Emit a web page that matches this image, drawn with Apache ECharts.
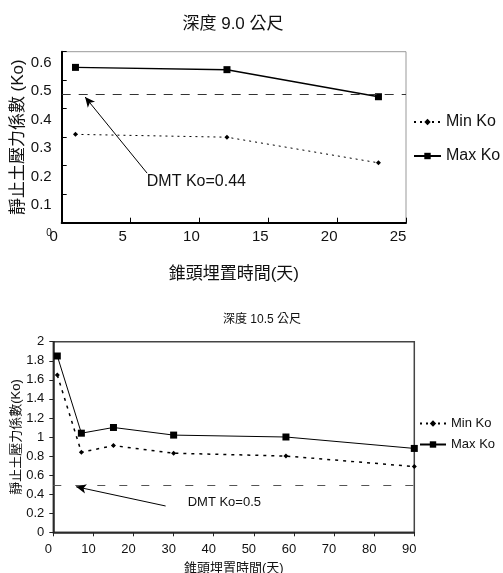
<!DOCTYPE html>
<html><head><meta charset="utf-8">
<script src="https://cdn.jsdelivr.net/npm/echarts@6/dist/echarts.min.js"></script>
<style>html,body{margin:0;padding:0;background:#fff}#c{width:503px;height:573px}</style>
</head><body><div id="c"></div>
<script>
// Chart 1: depth 9.0 m
const days9 = [1, 12, 23];
const minKo9 = [0.31, 0.30, 0.21];
const maxKo9 = [0.545, 0.537, 0.442];
const dmt9 = 0.45;
const dmtLabel9 = 'DMT Ko=0.44';
// Chart 2: depth 10.5 m
const days105 = [1, 7, 15, 30, 58, 90];
const minKo105 = [1.65, 0.84, 0.91, 0.83, 0.80, 0.69];
const maxKo105 = [1.85, 1.04, 1.10, 1.02, 1.00, 0.88];
const dmt105 = 0.49;
const dmtLabel105 = 'DMT Ko=0.5';
const seriesNames = ['Min Ko', 'Max Ko'];
const titles = ['深度 9.0 公尺', '深度 10.5 公尺'];
const xName = '錐頭埋置時間(天)';
const yName1 = '靜止土壓力係數 (Ko)';
const yName2 = '靜止土壓力係數(Ko)';

const F = "'Liberation Sans','Noto Sans CJK TC',sans-serif";
const FN = "'Liberation Sans Narrow','Liberation Sans','Noto Sans CJK TC',sans-serif";
const pair = (xs, ys) => xs.map((x, i) => [x, ys[i]]);

const chart = echarts.init(document.getElementById('c'), null, {renderer: 'canvas'});
chart.setOption({
  animation: false,
  backgroundColor: '#fff',
  title: [
    {text: titles[0], left: 228, top: 11, textAlign: 'center',
     textStyle: {fontFamily: F, fontSize: 17, fontWeight: 'normal', color: '#111'}},
    {text: titles[1], left: 257, top: 309, textAlign: 'center',
     textStyle: {fontFamily: FN, fontSize: 12, fontWeight: 'normal', color: '#111'}}
  ],
  legend: [
    {orient: 'vertical', left: 408, top: 109, itemWidth: 27, itemHeight: 8, itemGap: 18,
     data: seriesNames, textStyle: {fontFamily: F, fontSize: 16, color: '#111'}},
    {orient: 'vertical', left: 414, top: 412, itemWidth: 26, itemHeight: 8, itemGap: 8,
     data: seriesNames, textStyle: {fontFamily: FN, fontSize: 13, color: '#111'}}
  ],
  grid: [
    {left: 61.7, top: 51.7, width: 344.3, height: 171, show: true, borderColor: '#999', borderWidth: 1,
     outerBoundsMode: 'none', containLabel: false},
    {left: 53.3, top: 341.7, width: 361, height: 190.6, show: true, borderColor: '#444', borderWidth: 1.5,
     outerBoundsMode: 'none', containLabel: false}
  ],
  xAxis: [
    {gridIndex: 0, type: 'value', min: 0, max: 25, interval: 5,
     name: xName, nameLocation: 'middle', nameGap: 43,
     nameTextStyle: {fontFamily: F, fontSize: 17, color: '#111'},
     axisLine: {onZero: false, lineStyle: {color: '#000', width: 2}},
     axisTick: {inside: true, length: 5, lineStyle: {color: '#000'}},
     axisLabel: {fontFamily: F, fontSize: 15, color: '#111', margin: 7, padding: [0, 16, 0, 0]},
     splitLine: {show: false}},
    {gridIndex: 1, type: 'value', min: 0, max: 90, interval: 10,
     name: xName, nameLocation: 'middle', nameGap: 30,
     nameTextStyle: {fontFamily: FN, fontSize: 13, color: '#111'},
     axisLine: {onZero: false, lineStyle: {color: '#222', width: 1.5}},
     axisTick: {length: 4, lineStyle: {color: '#222'}},
     axisLabel: {fontFamily: FN, fontSize: 13, color: '#111', margin: 11, padding: [0, 10, 0, 0]},
     splitLine: {show: false}}
  ],
  yAxis: [
    {gridIndex: 0, type: 'value', min: 0, max: 0.6, interval: 0.1,
     name: yName1, nameLocation: 'middle', nameGap: 35, nameRotate: 90, nameMoveOverlap: false,
     nameTextStyle: {fontFamily: F, fontSize: 17, color: '#111'},
     axisLine: {onZero: false, lineStyle: {color: '#000', width: 2}},
     axisTick: {inside: true, length: 5, lineStyle: {color: '#000'}},
     axisLabel: {fontFamily: F, fontSize: 15, color: '#111', margin: 10, padding: [22, 0, 0, 0],
       formatter: v => v === 0 ? '{s|0}' : v.toFixed(1),
       rich: {s: {fontFamily: F, fontSize: 10, color: '#111'}}},
     splitLine: {show: false}},
    {gridIndex: 1, type: 'value', min: 0, max: 2, interval: 0.2,
     name: yName2, nameLocation: 'middle', nameGap: 30, nameRotate: 90, nameMoveOverlap: false,
     nameTextStyle: {fontFamily: FN, fontSize: 13, color: '#111'},
     axisLine: {onZero: false, lineStyle: {color: '#222', width: 1.5}},
     axisTick: {length: 4, lineStyle: {color: '#222'}},
     axisLabel: {fontFamily: FN, fontSize: 13, color: '#111', margin: 9,
       formatter: v => String(Math.round(v * 10) / 10)},
     splitLine: {show: false}}
  ],
  series: [
    {name: seriesNames[0], type: 'line', xAxisIndex: 0, yAxisIndex: 0, data: pair(days9, minKo9),
     symbol: 'diamond', symbolSize: 5, itemStyle: {color: '#000'},
     lineStyle: {color: '#000', width: 1, type: [2, 4]}},
    {name: seriesNames[1], type: 'line', xAxisIndex: 0, yAxisIndex: 0, data: pair(days9, maxKo9),
     symbol: 'rect', symbolSize: 7, itemStyle: {color: '#000'},
     lineStyle: {color: '#000', width: 1.5}},
    {name: 'DMT1', type: 'line', xAxisIndex: 0, yAxisIndex: 0, data: [], silent: true,
     markLine: {silent: true, symbol: ['none', 'none'], label: {show: false},
       data: [
         {yAxis: dmt9, lineStyle: {color: '#333', width: 1, type: [9, 8]}},
         [{coord: [6.2, 0.174], symbol: 'none', lineStyle: {color: '#000', width: 1, type: 'solid'}},
          {coord: [1.7, 0.441], symbol: 'arrow', symbolSize: [7, 10]}]
       ]},
     markPoint: {silent: true, symbol: 'circle', symbolSize: 0,
       data: [{coord: [6.18, 0.143], label: {show: true, position: 'right', distance: 0,
         formatter: dmtLabel9, fontFamily: F, fontSize: 16, color: '#111'}}]}},
    {name: seriesNames[0], type: 'line', xAxisIndex: 1, yAxisIndex: 1, data: pair(days105, minKo105),
     symbol: 'diamond', symbolSize: 5, itemStyle: {color: '#000'},
     lineStyle: {color: '#000', width: 1.5, type: [3, 5]}},
    {name: seriesNames[1], type: 'line', xAxisIndex: 1, yAxisIndex: 1, data: pair(days105, maxKo105),
     symbol: 'rect', symbolSize: 7, itemStyle: {color: '#000'},
     lineStyle: {color: '#000', width: 1}},
    {name: 'DMT2', type: 'line', xAxisIndex: 1, yAxisIndex: 1, data: [], silent: true,
     markLine: {silent: true, symbol: ['none', 'none'], label: {show: false},
       data: [
         {yAxis: dmt105, lineStyle: {color: '#555', width: 1, type: [8, 14]}},
         [{coord: [28.0, 0.276], symbol: 'none', lineStyle: {color: '#000', width: 1, type: 'solid'}},
          {coord: [5.7, 0.478], symbol: 'arrow', symbolSize: [7, 10]}]
       ]},
     markPoint: {silent: true, symbol: 'circle', symbolSize: 0,
       data: [{coord: [33.5, 0.31], label: {show: true, position: 'right', distance: 0,
         formatter: dmtLabel105, fontFamily: FN, fontSize: 13, color: '#111'}}]}}
  ]
});
</script>
</body></html>
